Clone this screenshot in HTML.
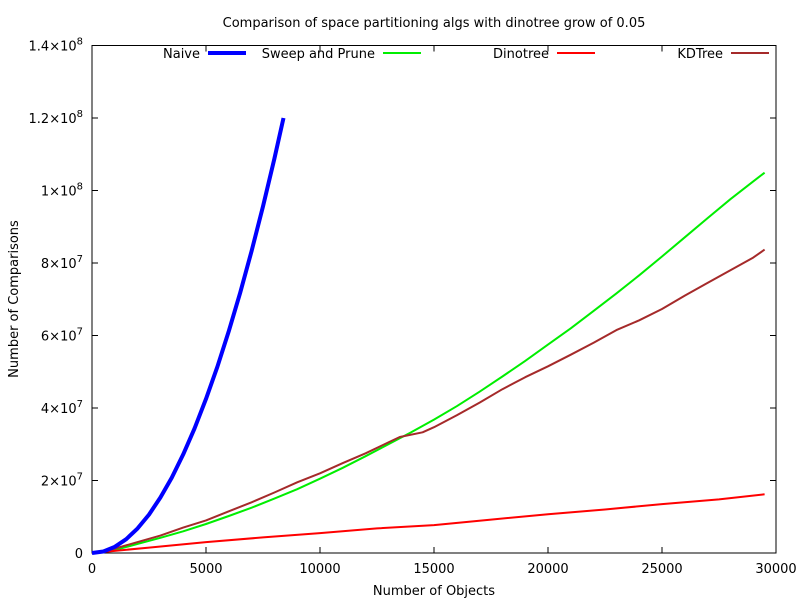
<!DOCTYPE html>
<html><head><meta charset="utf-8"><style>
body{margin:0;background:#fff;}
svg{font-family:"DejaVu Sans","Liberation Sans",sans-serif;font-size:13px;}
</style></head><body>
<svg id="chart" width="800" height="600" xmlns="http://www.w3.org/2000/svg">
<text x="434" y="27" text-anchor="middle">Comparison of space partitioning algs with dinotree grow of 0.05</text>
<text x="434" y="595" text-anchor="middle">Number of Objects</text>
<text transform="translate(18,299) rotate(-90)" text-anchor="middle">Number of Comparisons</text>
<g id="axes"></g>
<g id="series"></g>
<g id="legend"></g>
</svg>
<script>
const xTicks=[0,5000,10000,15000,20000,25000,30000];
const yTicks=[0,2,4,6,8,10,12,14];
const yTickLabels=["0","2×10^7","4×10^7","6×10^7","8×10^7","1×10^8","1.2×10^8","1.4×10^8"];
const naiveX=[0,500,1000,1500,2000,2500,3000,3500,4000,4500,5000,5500,6000,6500,7000,7500,8000,8400];
const naiveY=[0,0.04,0.17,0.38,0.68,1.06,1.53,2.08,2.72,3.44,4.25,5.14,6.12,7.18,8.33,9.56,10.88,12.0];
const sweepX=[0,1000,2000,3000,4000,5000,6000,7000,8000,9000,10000,11000,12000,13000,14000,15000,16000,17000,18000,19000,20000,21000,22000,23000,24000,25000,26000,27000,28000,29000,29500];
const sweepY=[0,0.08,0.25,0.42,0.6,0.8,1.02,1.25,1.5,1.76,2.05,2.35,2.67,3.0,3.33,3.68,4.05,4.45,4.87,5.3,5.75,6.2,6.68,7.16,7.66,8.18,8.71,9.24,9.76,10.25,10.49];
const dinoX=[0,2500,5000,7500,10000,12500,15000,17500,20000,22500,25000,27500,29500];
const dinoY=[0,0.15,0.3,0.43,0.55,0.68,0.77,0.92,1.07,1.2,1.35,1.48,1.62];
const kdX=[0,1000,2000,3000,4000,5000,6000,7000,8000,9000,10000,11000,12000,13000,13500,14500,15000,16000,17000,18000,19000,20000,21000,22000,23000,24000,25000,26000,27000,28000,29000,29500];
const kdY=[0,0.12,0.3,0.48,0.7,0.9,1.15,1.4,1.67,1.95,2.2,2.48,2.75,3.05,3.2,3.33,3.47,3.8,4.15,4.52,4.85,5.15,5.47,5.8,6.15,6.42,6.73,7.1,7.45,7.8,8.15,8.37];
const X0=92,X1=776,Y0=553,Y1=45.5;
function sx(v){return X0+(X1-X0)*v/30000;}
function sy(v){return Y0-(Y0-Y1)*v/14;}
const NS="http://www.w3.org/2000/svg";
function mk(t,a,p){const e=document.createElementNS(NS,t);for(const k in a)e.setAttribute(k,a[k]);p.appendChild(e);return e;}
const axes=document.getElementById('axes');
const frame=mk('rect',{x:X0,y:Y1,width:X1-X0,height:Y0-Y1,fill:'none',stroke:'#000','stroke-width':1},axes);


xTicks.forEach(v=>{
  const x=sx(v);
  const t=mk('path',{d:`M${x},${Y0}v-6M${x},${Y1}v6`,stroke:'#000'},axes);
  
  
  const l=mk('text',{x:x,y:Y0+20,'text-anchor':'middle'},axes);
  l.textContent=v;
  
  
});
yTicks.forEach((v,i)=>{
  const y=sy(v);
  const t=mk('path',{d:`M${X0},${y}h6M${X1},${y}h-6`,stroke:'#000'},axes);
  
  
  const l=mk('text',{x:X0-9,y:y+5,'text-anchor':'end'},axes);
  const parts=yTickLabels[i].split('^');
  l.appendChild(document.createTextNode(parts[0]));
  if(parts[1]){const s=mk('tspan',{dy:-6,'font-size':'10px'},l);s.textContent=parts[1];}
  
  
});
const series=document.getElementById('series');
function line(xs,ys,color,w,name){
  const d=xs.map((x,i)=>(i?'L':'M')+sx(x).toFixed(1)+','+sy(ys[i]).toFixed(1)).join('');
  const p=mk('path',{d:d,fill:'none',stroke:color,'stroke-width':w,'stroke-linejoin':'round'},series);
  
  
}
line(sweepX,sweepY,'#00ee00',2,'sweep-and-prune-line');
line(kdX,kdY,'#a52a2a',2,'kdtree-line');
line(dinoX,dinoY,'#ff0000',2,'dinotree-line');
line(naiveX,naiveY,'#0000ff',4,'naive-line');
const legend=document.getElementById('legend');
[['Naive',200,'#0000ff',4],['Sweep and Prune',375,'#00ee00',2],['Dinotree',549,'#ff0000',2],['KDTree',723,'#a52a2a',2]].forEach(e=>{
  const g=mk('g',{},legend);
  
  
  const t=mk('text',{x:e[1],y:58,'text-anchor':'end'},g);t.textContent=e[0];
  mk('line',{x1:e[1]+8,x2:e[1]+46,y1:53,y2:53,stroke:e[2],'stroke-width':e[3]},g);
});
</script>
</body></html>
